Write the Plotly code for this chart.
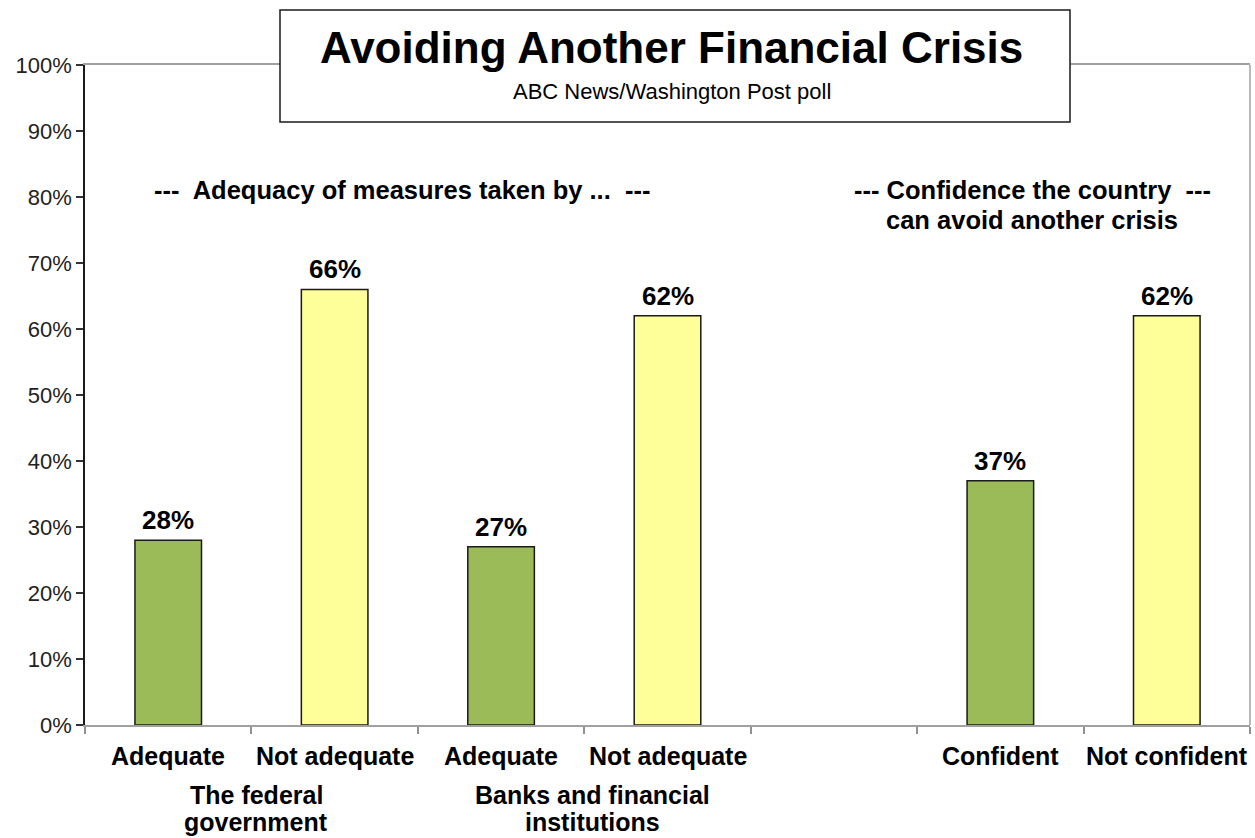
import plotly.graph_objects as go

# Poll results (percent)
categories = ["Adequate", "Not adequate", "Adequate", "Not adequate", "", "Confident", "Not confident"]
values = [28, 66, 27, 62, None, 37, 62]
bar_colors = ["#9BBB59", "#FFFF99", "#9BBB59", "#FFFF99", "#FFFFFF", "#9BBB59", "#FFFF99"]
group_labels = ["The federal<br>government", "Banks and financial<br>institutions"]
group_centers = [1.03, 3.05]
y_ticks = [0, 10, 20, 30, 40, 50, 60, 70, 80, 90, 100]
y_tick_text = [f"{t}%" for t in y_ticks]

W, H = 1255, 838
L, R, T, B = 85, 5, 65, 113
PW, PH = W - L - R, H - T - B


def px_x(px):
    return (px - L) / PW


def px_y(py):
    return (H - B - py) / PH


x_pos = [i + 0.5 for i in range(len(categories))]
bx = [x for x, v in zip(x_pos, values) if v is not None]
bv = [v for v in values if v is not None]
bc = [c for c, v in zip(bar_colors, values) if v is not None]

fig = go.Figure()
fig.add_trace(go.Bar(
    x=bx, y=bv, width=0.4,
    marker=dict(color=bc, line=dict(color="#1a1a1a", width=1.5)),
    hoverinfo="skip", showlegend=False,
))

bold = "Liberation Sans"
annotations = []


def text(x, y, s, size, xref="paper", yref="paper", bold_text=True, **kw):
    annotations.append(dict(
        x=x, y=y, xref=xref, yref=yref, text=f"<b>{s}</b>" if bold_text else s,
        showarrow=False, xanchor=kw.pop("xanchor", "center"), yanchor=kw.pop("yanchor", "middle"),
        font=dict(family=bold, size=size, color="#000"), **kw,
    ))


# value labels above bars
for x, v in zip(bx, bv):
    text(x, v, f"{v}%", 26, xref="x", yref="y", yanchor="bottom", yshift=3)
# category labels under the axis
for x, c in zip(x_pos, categories):
    if c:
        text(x, px_y(756), c, 25, xref="x")
# group labels, one annotation per line
for x, g in zip(group_centers, group_labels):
    for k, line in enumerate(g.split("<br>")):
        text(x, px_y(795 + 27 * k), line, 25, xref="x")
# section headers
text(px_x(402), px_y(190), "---  Adequacy of measures taken by ...  ---", 25.5)
text(px_x(1032), px_y(190), "--- Confidence the country  ---", 25.5)
text(px_x(1032), px_y(220), "can avoid another crisis", 25.5)
# title box text
text(px_x(672), px_y(48), "Avoiding Another Financial Crisis", 44)
text(px_x(672), px_y(91), "ABC News/Washington Post poll", 22, bold_text=False)

shapes = [
    # right border of the plot area
    dict(type="line", xref="paper", yref="paper", x0=1, x1=1, y0=0, y1=1,
         line=dict(color="#a0a0a0", width=1.5), layer="below"),
    # title box
    dict(type="rect", xref="paper", yref="paper",
         x0=px_x(280), x1=px_x(1070), y0=px_y(122), y1=px_y(10),
         line=dict(color="#1a1a1a", width=1.5), fillcolor="#FFFFFF", layer="above"),
]

fig.update_layout(
    width=W, height=H,
    margin=dict(l=L, r=R, t=T, b=B),
    paper_bgcolor="#FFFFFF", plot_bgcolor="#FFFFFF",
    font=dict(family="Liberation Sans", size=22, color="#222"),
    xaxis=dict(
        range=[0, len(categories)], showgrid=False, zeroline=False,
        showline=True, linecolor="#a0a0a0", linewidth=1.5, mirror=True,
        tickvals=x_pos, ticktext=[""] * len(x_pos), ticks="",
        minor=dict(tickvals=list(range(len(categories) + 1)), ticks="outside",
                   ticklen=7, tickcolor="#909090", tickwidth=1.5),
        fixedrange=True,
    ),
    yaxis=dict(
        range=[0, 100], tickvals=y_ticks, ticktext=y_tick_text,
        showgrid=False, zeroline=False,
        showline=True, linecolor="#1a1a1a", linewidth=1.5,
        ticks="outside", ticklen=7, tickcolor="#333", tickwidth=1.5,
        tickfont=dict(family="Liberation Sans", size=22, color="#222"),
        fixedrange=True,
    ),
    annotations=annotations,
    shapes=shapes,
)

fig.write_html("out.html")
